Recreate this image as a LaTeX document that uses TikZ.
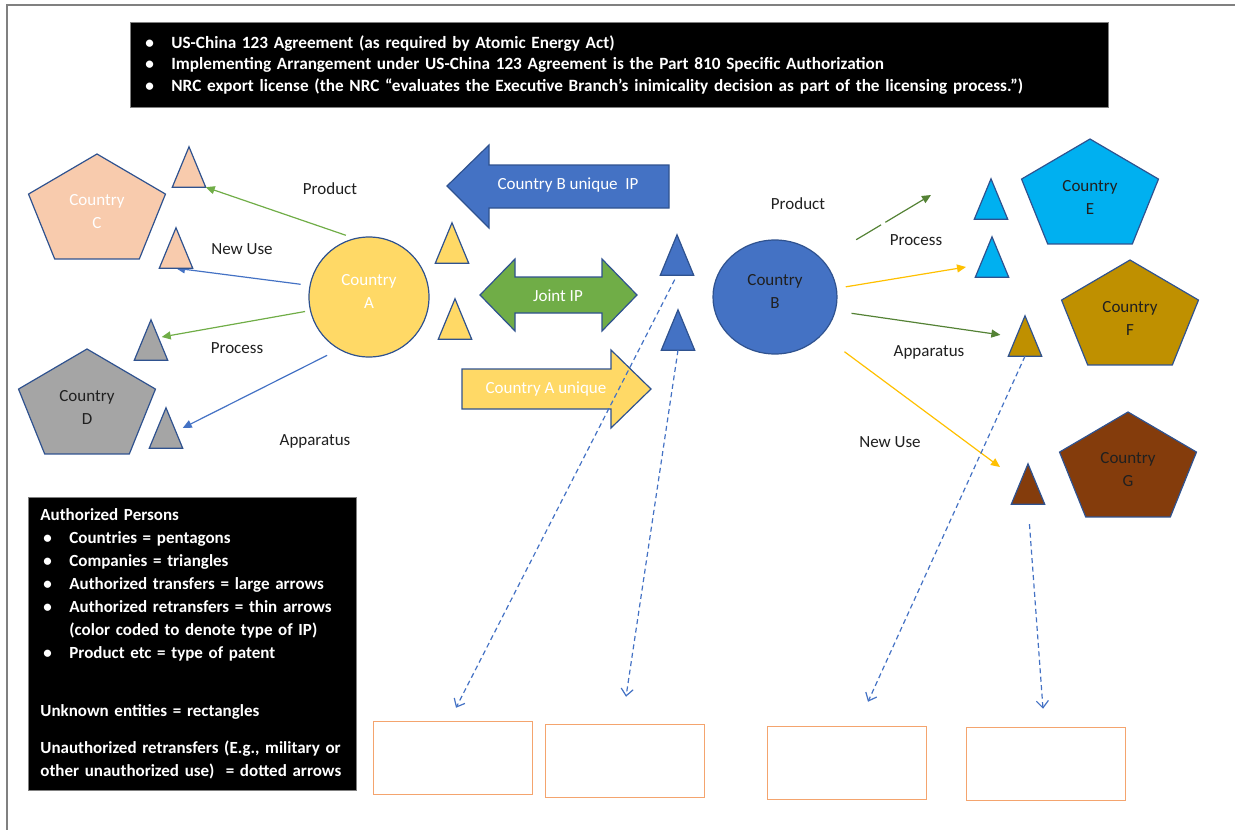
\documentclass[tikz,border=0pt]{standalone}
\usepackage{fontspec}
\setmainfont{Carlito}
\usetikzlibrary{arrows.meta,shapes.geometric,positioning}
\definecolor{oBlue}{RGB}{68,114,196}
\definecolor{oEdge}{RGB}{47,82,143}
\definecolor{oGreen}{RGB}{112,173,71}
\definecolor{oDkGreen}{RGB}{84,130,53}
\definecolor{oGold}{RGB}{255,217,102}
\definecolor{oAmber}{RGB}{255,192,0}
\definecolor{oPeach}{RGB}{248,203,173}
\definecolor{oGray}{RGB}{165,165,165}
\definecolor{oSky}{RGB}{0,176,240}
\definecolor{oOchre}{RGB}{191,144,0}
\definecolor{oBrown}{RGB}{132,60,12}
\definecolor{oOrange}{RGB}{244,164,110}
\definecolor{oInk}{RGB}{32,32,32}
\definecolor{oFrame}{gray}{0.5}
\tikzset{
    edge/.style={draw=oEdge, line width=1.2pt},
    firm/.style={rectangle, minimum width=33pt, minimum height=40pt, inner sep=0pt},
    land/.style={align=center, font=\fontsize{17}{23}\selectfont, inner sep=0pt},
    tag/.style={font=\fontsize{17}{20}\selectfont, text=oInk, inner sep=0pt},
    bigtxt/.style={font=\fontsize{17}{20}\selectfont, text=white, inner sep=0pt},
    thin/.style={line width=1.2pt, -{Triangle[length=9pt,width=8pt]}},
    unauth/.style={oBlue, line width=1.2pt, dash pattern=on 5pt off 3.5pt, -{Straight Barb[length=7pt,width=12pt]}},
    unknown/.style={rectangle, draw=oOrange, line width=1.5pt, minimum width=159pt, minimum height=73pt},
    blackbox/.style={fill=black, draw=oFrame, line width=0.8pt, text=white, align=left, anchor=north west, inner ysep=0pt}
}
\newcommand{\firm}[4]{%
  \node[firm] (#1) at (#2,#3) {};
  \filldraw[edge, fill=#4] (#1.north) -- (#1.south east) -- (#1.south west) -- cycle;
}
\newcommand{\nation}[6]{%
  \filldraw[edge, fill=#4, shift={(#2,#3)}] (-90:72 and 58) -- (-18:72 and 58) -- (54:72 and 58) -- (126:72 and 58) -- (198:72 and 58) -- cycle;
  \node[land, text=#5] (#1) at (#2,#3) {Country\\#6};
}
\newcommand{\bul}{\makebox[29pt][l]{\hspace{3pt}\textbullet}}

\begin{document}
\begin{tikzpicture}[x=1pt,y=-1pt]
\useasboundingbox (0,0) rectangle (1235,830);
\draw[oFrame, line width=2pt] (7,830) -- (7,5) -- (1235,5);

\node[blackbox, minimum width=978pt, minimum height=85pt, inner xsep=12pt, text width=954pt,
      font=\bfseries\fontsize{17.2}{21.5}\selectfont] (notes) at (130,22) {%
  \bul US-China 123 Agreement (as required by Atomic Energy Act)\\
  \bul Implementing Arrangement under US-China 123 Agreement is the Part 810 Specific Authorization\\
  \bul NRC export license (the NRC “evaluates the Executive Branch’s inimicality decision as part of the licensing process.”)};

\node[blackbox, minimum width=328pt, minimum height=293pt, inner xsep=12pt, text width=304pt,
      font=\bfseries\fontsize{17}{23}\selectfont] (key) at (28,497) {%
  Authorized Persons\\
  \bul Countries = pentagons\\
  \bul Companies = triangles\\
  \bul Authorized transfers = large arrows\\
  \bul Authorized retransfers = thin arrows\\
  \hspace*{29pt}(color coded to denote type of IP)\\
  \bul Product etc = type of patent\\[35pt]
  Unknown entities = rectangles\\[14pt]
  Unauthorized retransfers (E.g., military or\\
  other unauthorized use)\ \ = dotted arrows};

\nation{cC}{97}{212}{oPeach}{white}{C}
\nation{cD}{87}{407}{oGray}{oInk}{D}
\nation{cE}{1090}{197}{oSky}{oInk}{E}
\nation{cF}{1130}{318}{oOchre}{oInk}{F}
\nation{cG}{1128}{470}{oBrown}{oInk}{G}

\node[circle, edge, fill=oGold, minimum size=120pt] (cA) at (369,297) {};
\node[land, text=white] (tA) at (369,291) {Country\\A};
\node[ellipse, edge, fill=oBlue, minimum width=124pt, minimum height=114pt] (cB) at (775,297) {};
\node[land, text=oInk] (tB) at (775,291) {Country\\B};

\node[firm] (C2) at (176,248) {};
\draw[thin, oBlue, shorten <=9pt] (cA.169) -- (C2.south);
\filldraw[edge, fill=oPeach] (C2.north) -- (C2.south east) -- (C2.south west) -- cycle;

\firm{C1}{189}{167}{oPeach}
\firm{D1}{151}{340}{oGray}
\firm{D2}{166}{428}{oGray}
\firm{A1}{452}{243}{oGold}
\firm{A2}{455}{319}{oGold}
\firm{B1}{677}{255}{oBlue}
\firm{B2}{678}{330}{oBlue}
\firm{E1}{991}{199}{oSky}
\firm{E2}{992}{257}{oSky}
\firm{Ftri}{1025}{336}{oOchre}
\firm{Gtri}{1028}{484}{oBrown}

\filldraw[edge, fill=oBlue] (447,186) -- (489,145) -- (489,165) -- (669,165) -- (669,208) -- (489,208) -- (489,228) -- cycle;
\node[bigtxt] (ipB) at (568,185) {Country B unique\ \ IP};
\filldraw[edge, fill=oGreen] (480,295) -- (515,259) -- (515,277) -- (602,277) -- (602,259) -- (637,295) -- (602,331) -- (602,313) -- (515,313) -- (515,331) -- cycle;
\node[bigtxt] (ipJ) at (558,296) {Joint IP};
\filldraw[edge, fill=oGold] (462,369) -- (611,369) -- (611,350) -- (651,389) -- (611,428) -- (611,409) -- (462,409) -- cycle;
\node[bigtxt] (ipA) at (546,389) {Country A unique};

\node[tag] (lPrA) at (330,189) {Product};
\node[tag] (lNuA) at (242,249) {New Use};
\node[tag] (lPcA) at (237,348) {Process};
\node[tag] (lApA) at (315,441) {Apparatus};
\node[tag] (lPrB) at (798,204) {Product};
\node[tag] (lPcB) at (916,240) {Process};
\node[tag] (lApB) at (929,352) {Apparatus};
\node[tag] (lNuB) at (890,442) {New Use};

\node[unknown] (R1) at (453,758)  {};
\node[unknown] (R2) at (625,761)  {};
\node[unknown] (R3) at (847,763)  {};
\node[unknown] (R4) at (1046,764) {};

\coordinate (tipE1) at (931,195);
\coordinate (tipE2) at (966,267);
\coordinate (tipG)  at (1000,467);

\draw[thin, oGreen, shorten <=9pt] (cA.104) -- (C1.south east);
\draw[thin, oGreen, shorten <=5pt] (cA.193) -- ([xshift=-6pt,yshift=3pt]D1.east);
\draw[thin, oBlue, shorten <=13pt] (cA.240) -- (D2.east);

\draw[thin, oDkGreen, shorten <=39pt, dash pattern=on 29pt off 5pt on 200pt off 0pt] (cB.38) -- (tipE1);
\draw[thin, oAmber, shorten <=9pt] (cB.8) -- (tipE2);
\draw[thin, oDkGreen, shorten <=16pt, shorten >=8pt] (cB.-13) -- (Ftri.west);
\draw[thin, oAmber, shorten <=28pt] (cB.-39) -- (tipG);

\draw[unauth, shorten <=5pt] (B1.south) -- ([xshift=3pt,yshift=13pt]R1.north);
\draw[unauth] (B2.south) -- ([xshift=1pt,yshift=27pt]R2.north);
\draw[unauth] (Ftri.south) -- ([xshift=21pt,yshift=24pt]R3.north);
\draw[unauth, shorten <=20pt] (Gtri.south) -- ([xshift=-3pt,yshift=18pt]R4.north);
\end{tikzpicture}
\end{document}
